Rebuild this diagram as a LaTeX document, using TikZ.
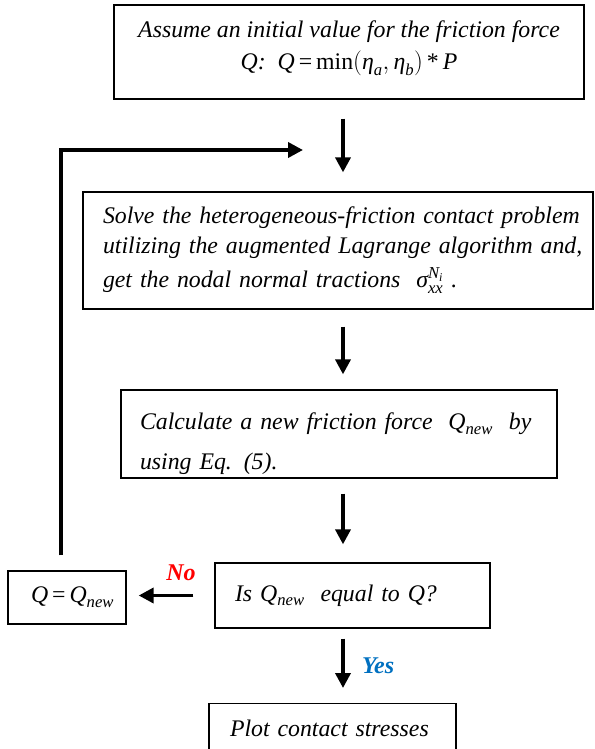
\documentclass[tikz,border=0pt]{standalone}
\usepackage{amsmath}
\usepackage{fontspec}
\setmainfont{Liberation Serif}
\usetikzlibrary{arrows.meta}
\definecolor{yesblue}{RGB}{0,112,192}
\definecolor{nored}{RGB}{255,0,0}
\newcommand{\mi}[1]{\text{\itshape #1}}
\newcommand{\mup}[1]{\text{\upshape #1}}
\newcommand{\Qnew}{\mi{Q}_{\mi{new}}}
\begin{document}
\begin{tikzpicture}[x=1pt,y=-1pt,
  box/.style={draw,line width=1.3pt,inner sep=0pt,font=\itshape\fontsize{23.8}{30}\selectfont},
  flow/.style={line width=3.6pt,-{Triangle[width=15pt,length=15pt]}},
  lbl/.style={font=\bfseries\itshape\fontsize{24}{28}\selectfont}]
\useasboundingbox (0,0) rectangle (594,749);
\node[box,minimum width=470pt,minimum height=94pt,align=center,
  font=\itshape\fontsize{23.8}{33}\selectfont] (b1) at (349,52)
  {Assume an initial value for the friction force\\[-1pt] Q:~ $\mi{Q}\mup{\,=\,}\mup{min}(\mi{η}_{\mi{a}},\mi{η}_{\mi{b}})\mup{\,*\,}\mi{P}$\rule[-14pt]{0pt}{1pt}};
\node[box,minimum width=510pt,minimum height=117pt,text width=470pt,align=left] (b2) at (338,250.5)
  {\mbox{Solve the heterogeneous-friction contact problem}\\
   \mbox{utilizing the augmented Lagrange algorithm and,}\\[4pt]
   \mbox{get the nodal normal tractions~ $\mi{σ}_{\mi{xx}}^{\mi{N}_{\mi{i}}}$~.}};
\node[box,minimum width=436pt,minimum height=88pt,text width=398pt,align=left,
  font=\itshape\fontsize{23.8}{40}\selectfont] (b3) at (339,434)
  {\rule{0pt}{36pt}\mbox{Calculate a new friction force~ $\Qnew$~ by}\\ using Eq. (5).};
\node[box,minimum width=275pt,minimum height=65pt,text width=235pt,align=left] (b4) at (352.5,595.5)
  {\mbox{Is $\Qnew$~ equal to Q?}};
\node[box,minimum width=118pt,minimum height=53pt,text width=72pt,align=left] (b5) at (67,597.5)
  {\mbox{$\mi{Q}\mup{\,=\,}\Qnew$}};
\node[box,minimum width=247pt,minimum height=50pt,text width=205pt,align=left,anchor=north] (b6) at (332.5,703)
  {Plot contact stresses};
\coordinate (ax) at (343,0);
\coordinate (loopend) at (303,150);
\draw[flow,shorten <=19pt,shorten >=19pt] (b1.south -| ax) -- (b2.north -| ax);
\draw[flow,shorten <=17pt,shorten >=15pt] (b2.south -| ax) -- (b3.north -| ax);
\draw[flow,shorten <=15pt,shorten >=18pt] (b3.south -| ax) -- (b4.north -| ax);
\draw[flow,shorten <=10pt,shorten >=15pt] (b4.south -| ax) -- (b6.north -| ax)
  node[pos=0.5,right=14pt,lbl,text=yesblue] (yes) {Yes};
\draw[flow,shorten <=21pt,shorten >=12pt] (b4.west) -- (b4.west -| b5.east)
  node[pos=0.38,above=10pt,lbl,text=nored] (no) {No};
\draw[line width=3.6pt,-{Triangle[width=15pt,length=15pt]},shorten <=15pt]
  (b5.north -| 61,0) |- (loopend);
\end{tikzpicture}
\end{document}
